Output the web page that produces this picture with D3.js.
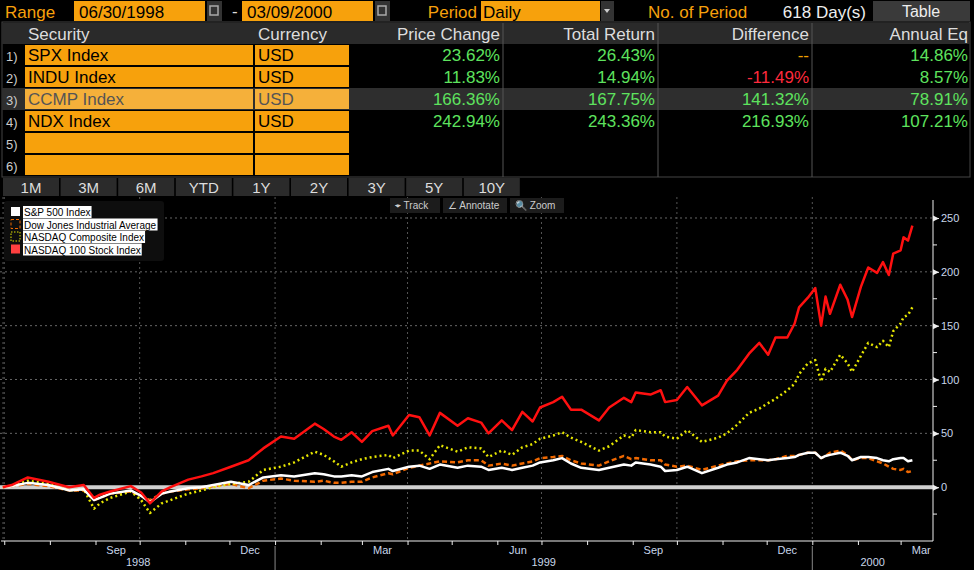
<!DOCTYPE html>
<html><head><meta charset="utf-8">
<script src="https://cdn.jsdelivr.net/npm/d3@7"></script>
<style>body{margin:0;background:#000;overflow:hidden}svg{display:block}</style>
</head><body><svg id="c" width="974" height="570"></svg>
<script>
const dates=["1998-06-30","1998-07-06","1998-07-17","1998-07-31","1998-08-14","1998-08-24","1998-08-31","1998-09-04","1998-09-11","1998-09-25","1998-10-02","1998-10-08","1998-10-16","1998-10-22","1998-11-03","1998-11-12","1998-11-20","1998-12-02","1998-12-14","1998-12-24","1999-01-05","1999-01-14","1999-01-28","1999-02-03","1999-02-10","1999-02-15","1999-02-22","1999-03-01","1999-03-08","1999-03-19","1999-03-22","1999-04-02","1999-04-09","1999-04-16","1999-04-23","1999-05-05","1999-05-12","1999-05-21","1999-05-26","1999-06-04","1999-06-11","1999-06-18","1999-06-25","1999-06-30","1999-07-09","1999-07-15","1999-07-21","1999-07-28","1999-08-09","1999-08-16","1999-08-26","1999-08-31","1999-09-03","1999-09-13","1999-09-20","1999-09-23","1999-10-01","1999-10-08","1999-10-18","1999-10-29","1999-11-04","1999-11-11","1999-11-19","1999-11-26","1999-12-02","1999-12-07","1999-12-15","1999-12-20","1999-12-23","1999-12-29","2000-01-03","2000-01-07","2000-01-10","2000-01-13","2000-01-20","2000-01-25","2000-01-28","2000-02-03","2000-02-08","2000-02-14","2000-02-18","2000-02-22","2000-02-25","2000-03-01","2000-03-03","2000-03-06","2000-03-09"];
const ndx=[0,2,9,5,0,2,-10,-7,-4,1,-5,-15,-4,0,7,10,13,19,25,36,47,45,59,54,47,44,51,42,52,57,48,67,65,48,69,57,64,60,50,62,53,70,61,74,79,84,72,72,62,74,83,79,88,86,90,79,81,93,76,85,99,109,124,134,123,139,139,152,167,176,185,150,177,161,188,174,158,186,204,199,209,197,217,220,232,229,243];
const ccmp=[0,1,6,3,-3,-2,-20,-15,-10,-4,-12,-24,-15,-12,-6,-3,0,3,5,16,19,23,33,30,24,19,23,26,28,30,27,34,34,26,39,33,37,36,28,34,30,37,40,45,48,51,46,42,34,38,48,46,53,51,51,47,45,53,42,46,50,58,69,73,78,82,90,96,105,115,118,98,110,107,123,115,107,122,134,130,136,130,145,152,158,160,167];
const spx=[0,1,4,2,-3,-2,-12,-10,-6,-3,-8,-14,-6,-4,-1,0,2,5,2,9,11,10,13,12,10,10,11,10,14,17,15,19,20,17,21,18,20,19,16,18,16,18,20,23,25,27,22,18,16,18,21,20,23,21,19,15,16,19,13,18,21,23,27,26,25,26,27,28,30,32,32,27,29,30,32,29,25,28,28,27,25,24,26,27,27,24,25];
const indu=[0,1,3,1,-3,-3,-12,-10,-6,-4,-8,-12,-6,-4,-2,-1,1,3,-1,6,8,6,5,6,4,4,5,5,9,13,12,18,20,22,24,23,25,25,20,22,20,22,24,27,28,29,25,22,20,24,29,26,27,25,25,21,19,20,16,20,22,24,25,25,25,26,29,29,30,32,32,27,29,32,34,30,25,27,27,24,22,19,17,16,17,14,15];
const yTicks=[0,50,100,150,200,250];
const monthLabels=["Sep","Dec","Mar","Jun","Sep","Dec","Mar"];
const monthLabelDates=["1998-09-15","1998-12-15","1999-03-15","1999-06-15","1999-09-15","1999-12-15","2000-03-15"];
const years=["1998","1999","2000"];
const securities=["SPX Index","INDU Index","CCMP Index","NDX Index","",""];
const priceChange=["23.62%","11.83%","166.36%","242.94%"];
const totalReturn=["26.43%","14.94%","167.75%","243.36%"];
const difference=["--","-11.49%","141.32%","216.93%"];
const annualEq=["14.86%","8.57%","78.91%","107.21%"];
const periods=["1M","3M","6M","YTD","1Y","2Y","3Y","5Y","10Y"];
const legendNames=["S&P 500 Index","Dow Jones Industrial Average","NASDAQ Composite Index","NASDAQ 100 Stock Index"];

const svg=d3.select("#c");
const F='"Liberation Sans Narrow","Arial Narrow","Liberation Sans",sans-serif';
const OR="#f7a10c", GR="#5ee35e";
const p=d3.timeParse("%Y-%m-%d");
// header
const h=svg.append("g").attr("font-family",F).attr("font-size",17);
h.append("text").attr("x",5).attr("y",18).attr("fill",OR).text("Range");
[[74,205,"06/30/1998"],[242,373,"03/09/2000"]].forEach(([a,b,t])=>{
 h.append("rect").attr("x",a).attr("y",1).attr("width",b-a).attr("height",20).attr("fill",OR);
 h.append("text").attr("x",a+5).attr("y",18).attr("fill","#000").text(t);
 h.append("rect").attr("x",b+2).attr("y",1).attr("width",15).attr("height",20).attr("fill","#333");
 h.append("rect").attr("x",b+5).attr("y",6).attr("width",8).attr("height",9).attr("fill","none").attr("stroke","#aaa").attr("stroke-width",1.5);
});
h.append("text").attr("x",232).attr("y",17).attr("fill","#ddd").text("-");
h.append("text").attr("x",477).attr("y",18).attr("fill",OR).attr("text-anchor","end").text("Period");
h.append("rect").attr("x",481).attr("y",1).attr("width",119).attr("height",20).attr("fill",OR);
h.append("text").attr("x",483).attr("y",18).attr("fill","#000").text("Daily");
h.append("rect").attr("x",601).attr("y",1).attr("width",13).attr("height",20).attr("fill","#333");
h.append("path").attr("d","M604,9h6l-3,4z").attr("fill","#ccc");
h.append("text").attr("x",648).attr("y",18).attr("fill",OR).text("No. of Period");
h.append("text").attr("x",866).attr("y",18).attr("fill","#eee").attr("text-anchor","end").text("618 Day(s)");
h.append("rect").attr("x",873).attr("y",1).attr("width",97).attr("height",20).attr("fill","#3a3a3a");
h.append("text").attr("x",921).attr("y",17).attr("fill","#eee").attr("text-anchor","middle").attr("font-size",16).text("Table");
// table
const t=svg.append("g").attr("font-family",F).attr("font-size",17);
t.append("rect").attr("x",2).attr("y",22).attr("width",968).attr("height",155).attr("fill","#000").attr("stroke","#444");
t.append("rect").attr("x",2).attr("y",23).attr("width",968).attr("height",21).attr("fill","#2a2a2a");
t.append("rect").attr("x",2).attr("y",88).attr("width",968).attr("height",22).attr("fill","#2e2e2e");
t.append("text").attr("x",28).attr("y",40).attr("fill","#ddd").text("Security");
t.append("text").attr("x",258).attr("y",40).attr("fill","#ddd").text("Currency");
[["Price Change",500],["Total Return",655],["Difference",809],["Annual Eq",968]].forEach(([s,x])=>t.append("text").attr("x",x).attr("y",40).attr("fill","#ddd").attr("text-anchor","end").text(s));
[503,658,812].forEach(x=>t.append("line").attr("x1",x).attr("x2",x).attr("y1",23).attr("y2",177).attr("stroke","#555"));
securities.forEach((s,i)=>{
 const y=45+i*22, hi=i===2;
 t.append("text").attr("x",6).attr("y",y+16).attr("fill","#ccc").attr("font-size",13).text((i+1)+")");
 t.append("rect").attr("x",25).attr("y",y).attr("width",228).attr("height",20).attr("fill",hi?"#f5b03a":OR);
 t.append("rect").attr("x",255).attr("y",y).attr("width",94).attr("height",20).attr("fill",hi?"#f5b03a":OR);
 t.append("text").attr("x",28).attr("y",y+16).attr("fill",hi?"#555":"#000").text(s);
 if(s) t.append("text").attr("x",258).attr("y",y+16).attr("fill",hi?"#555":"#000").text("USD");
 if(i<4){
  t.append("text").attr("x",500).attr("y",y+16).attr("fill",GR).attr("text-anchor","end").text(priceChange[i]);
  t.append("text").attr("x",655).attr("y",y+16).attr("fill",GR).attr("text-anchor","end").text(totalReturn[i]);
  t.append("text").attr("x",809).attr("y",y+16).attr("fill",i===0?"#f0a000":i===1?"#ff2a3c":GR).attr("text-anchor","end").text(difference[i]);
  t.append("text").attr("x",968).attr("y",y+16).attr("fill",GR).attr("text-anchor","end").text(annualEq[i]);
 }
});
periods.forEach((s,i)=>{
 const x=3+i*57.6;
 t.append("rect").attr("x",x).attr("y",178).attr("width",56).attr("height",18).attr("fill","#2b2b2b");
 t.append("text").attr("x",x+28).attr("y",193).attr("fill","#ddd").attr("font-size",15).attr("text-anchor","middle").text(s);
});
// chart
const x=d3.scaleTime().domain([p("1998-06-29"),p("2000-03-23")]).range([1.3,933]);
const y=d3.scaleLinear().domain([-50,269.5]).range([541,197]);
const g=svg.append("g");
g.selectAll(".hg").data(yTicks.filter(v=>v>0)).join("line").attr("x1",0).attr("x2",933).attr("y1",d=>y(d)).attr("y2",d=>y(d)).attr("stroke","#666").attr("stroke-dasharray","2,3");
const qs=d3.timeMonth.every(3).range(p("1998-07-01"),p("2000-03-20")).filter(d=>d.getMonth()%3===0);
g.selectAll(".vg").data(qs).join("line").attr("x1",d=>x(d)).attr("x2",d=>x(d)).attr("y1",197).attr("y2",541).attr("stroke","#555").attr("stroke-dasharray","2,3");
g.append("line").attr("x1",3).attr("x2",3).attr("y1",197).attr("y2",541).attr("stroke","#555").attr("stroke-dasharray","2,3");
g.append("line").attr("x1",0).attr("x2",933).attr("y1",y(0)).attr("y2",y(0)).attr("stroke","#d0d0d0").attr("stroke-width",4);
const D=dates.map(p);
const series=[[indu,"#f06800","5,3",2.5],[ccmp,"#e6e600","2,3",2.5],[spx,"#ffffff",null,2.5],[ndx,"#ff1010",null,2.5]];
const ln=v=>d3.line().x((d,i)=>x(D[i])).y(d=>y(d)).curve(d3.curveLinear)(v);
series.forEach(([v,c,da,w])=>g.append("path").attr("d",ln(v)).attr("fill","none").attr("stroke",c).attr("stroke-width",w).attr("stroke-dasharray",da).attr("stroke-linejoin","round"));
// y axis
const ya=svg.append("g").attr("transform","translate(933,0)").call(d3.axisRight(y).tickValues(yTicks).tickSize(6).tickFormat(d3.format("d")));
ya.select(".domain").attr("stroke","#eee").attr("d","M0,200V541");
ya.selectAll(".tick line").attr("stroke","#eee");
ya.selectAll(".tick text").attr("fill","#c8d6ea").attr("font-size",11).attr("font-family","Liberation Sans,sans-serif").attr("x",8);
ya.selectAll(".tick").append("path").attr("d","M0,-3L6,0L0,3z").attr("fill","#eee");
[25,75,125,175,225,-25].forEach(v=>ya.append("line").attr("x1",0).attr("x2",4).attr("y1",y(v)).attr("y2",y(v)).attr("stroke","#eee"));
// x axis
const xa=svg.append("g").attr("transform","translate(0,541)").call(d3.axisBottom(x).ticks(d3.timeMonth.every(1)).tickSize(4).tickFormat(""));
xa.select(".domain").attr("stroke","#eee").attr("d","M1,0H933");
xa.selectAll(".tick line").attr("stroke","#eee");
const xt=svg.append("g").attr("font-family",F).attr("font-size",11).attr("fill","#c8d6ea").attr("text-anchor","middle");
monthLabels.forEach((m,i)=>xt.append("text").attr("x",x(p(monthLabelDates[i]))).attr("y",554).text(m));
const yb=[p("1998-06-29"),p("1999-01-01"),p("2000-01-01"),p("2000-03-23")];
years.forEach((s,i)=>xt.append("text").attr("x",(x(yb[i])+x(yb[i+1]))/2+(i===0?0:0)).attr("y",566).text(s));
[1,2].forEach(i=>svg.append("line").attr("x1",x(yb[i])).attr("x2",x(yb[i])).attr("y1",546).attr("y2",570).attr("stroke","#888"));
// toolbar
const tb=svg.append("g").attr("font-family","Liberation Sans,sans-serif").attr("font-size",10).attr("fill","#ccc");
[[390,"⌖ Track",50],[443,"∠ Annotate",64],[510,"🔍 Zoom",54]].forEach(([a,s,w])=>{tb.append("rect").attr("x",a).attr("y",198).attr("width",w).attr("height",15).attr("fill","#1c1c1c");tb.append("text").attr("x",a+5).attr("y",209).text(s);});
// legend
const lg=svg.append("g").attr("font-family","Liberation Sans,sans-serif").attr("font-size",10);
lg.append("rect").attr("x",4).attr("y",201).attr("width",160).attr("height",60).attr("rx",3).attr("fill","#0e0e0e");
legendNames.forEach((n,i)=>{
 const yy=207+i*12.5;
 if(i===0) lg.append("rect").attr("x",11).attr("y",yy).attr("width",9).attr("height",9).attr("fill","#fff");
 if(i===1) lg.append("rect").attr("x",11).attr("y",yy).attr("width",9).attr("height",9).attr("fill","none").attr("stroke","#f06800").attr("stroke-dasharray","3,2");
 if(i===2) lg.append("rect").attr("x",11).attr("y",yy).attr("width",9).attr("height",9).attr("fill","none").attr("stroke","#e6e600").attr("stroke-dasharray","1.5,1.5");
 if(i===3) lg.append("rect").attr("x",11).attr("y",yy).attr("width",9).attr("height",9).attr("fill","#ff4040");
 const tx=lg.append("text").attr("x",24).attr("y",yy+9).attr("fill","#000").text(n);
 const bb=tx.node().getBBox();
 lg.insert("rect","text:last-of-type").attr("x",bb.x-1).attr("y",yy-1).attr("width",bb.width+2).attr("height",12).attr("fill","#fff");
 tx.raise();
});
</script></body></html>
